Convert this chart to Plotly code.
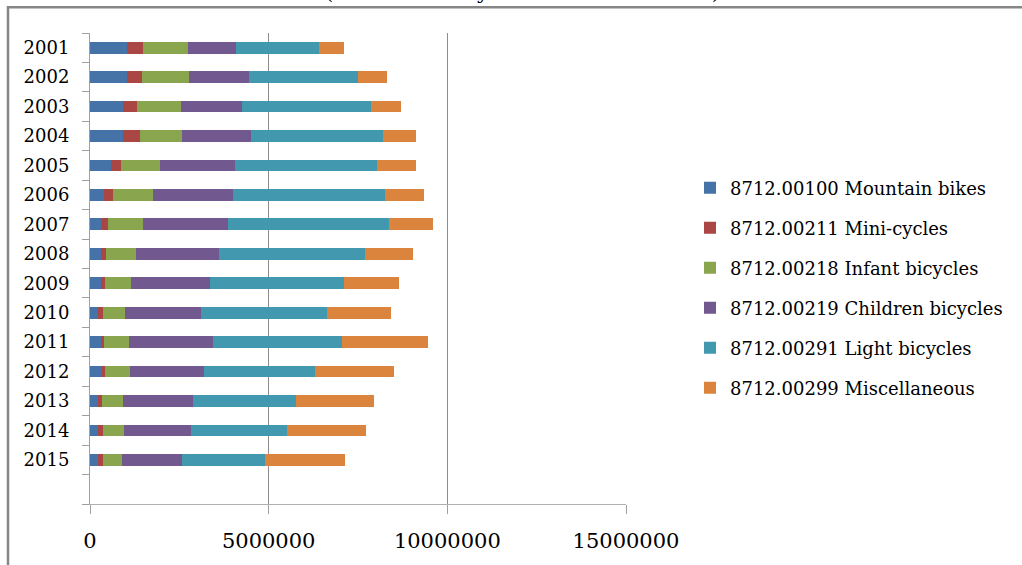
import plotly.graph_objects as go

years = [2001, 2002, 2003, 2004, 2005, 2006, 2007, 2008, 2009, 2010, 2011, 2012, 2013, 2014, 2015]
year_labels = [str(y) for y in years]

series_names = [
    "8712.00100 Mountain bikes",
    "8712.00211 Mini-cycles",
    "8712.00218 Infant bicycles",
    "8712.00219 Children bicycles",
    "8712.00291 Light bicycles",
    "8712.00299 Miscellaneous",
]

mountain_bikes = [1045000, 1045000, 933000, 933000, 578000, 392000, 308000, 308000, 299000, 224000, 308000, 326000, 224000, 224000, 224000]
mini_cycles = [438000, 410000, 392000, 457000, 280000, 252000, 205000, 149000, 130000, 140000, 84000, 103000, 102000, 130000, 130000]
infant_bicycles = [1250000, 1306000, 1222000, 1185000, 1092000, 1119000, 970000, 840000, 718000, 615000, 690000, 681000, 598000, 597000, 532000]
children_bicycles = [1344000, 1689000, 1716000, 1940000, 2099000, 2248000, 2379000, 2313000, 2211000, 2127000, 2369000, 2090000, 1968000, 1875000, 1689000]
light_bicycles = [2341000, 3059000, 3601000, 3685000, 3983000, 4245000, 4496000, 4086000, 3750000, 3526000, 3592000, 3097000, 2873000, 2687000, 2313000]
miscellaneous = [681000, 803000, 830000, 923000, 1091000, 1091000, 1241000, 1343000, 1530000, 1782000, 2407000, 2210000, 2183000, 2220000, 2248000]

x_ticks = [0, 5000000, 10000000, 15000000]
title_text = "(Other motorcycles are not included)"

colors = ["#4572A7", "#AA4643", "#89A54E", "#71588F", "#4198AF", "#DB843D"]
all_series = [mountain_bikes, mini_cycles, infant_bicycles, children_bicycles, light_bicycles, miscellaneous]

FONT = "'DejaVu Serif', 'Liberation Serif', serif"

fig = go.Figure()
for i, (name, vals) in enumerate(zip(series_names, all_series)):
    fig.add_trace(go.Bar(
        x=vals, y=years, name=name, orientation="h",
        marker=dict(color=colors[i], line=dict(width=0)),
        legendgroup=f"g{i}",
    ))

# pixel geometry helpers
W, H = 1022, 565
L, R, T, B = 90, 626, 33, 509
pw, ph = R - L, B - T

def px_x(p):
    return (p - L) / pw

def px_y(p):
    return (B - p) / ph

fig.update_layout(
    width=W, height=H, autosize=False,
    margin=dict(l=L, r=W - R, t=T, b=H - B, pad=0),
    barmode="stack", bargap=0.6,
    plot_bgcolor="white", paper_bgcolor="white",
    font=dict(family=FONT, color="#000000", size=18),
    showlegend=True,
    legend=dict(
        x=px_x(690), xanchor="left", y=px_y(171), yanchor="top",
        font=dict(family=FONT, size=18, color="#000000"),
        traceorder="grouped", tracegroupgap=13.6,
        bgcolor="rgba(0,0,0,0)", itemwidth=30,
    ),
    xaxis=dict(
        range=[0, 15000000], tickvals=x_ticks,
        ticktext=[str(v) for v in x_ticks],
        showgrid=True, gridcolor="#8c8c8c", gridwidth=1,
        zeroline=False,
        showline=True, linecolor="#b0b0b0", linewidth=1,
        ticks="outside", ticklen=9, tickcolor="#a0a0a0",
        tickfont=dict(family=FONT, size=21, color="#000000"),
        ticklabelstandoff=9,
    ),
    yaxis=dict(
        range=[2016.5, 2000.5],
        tickvals=years, ticktext=year_labels,
        ticks="outside", ticklen=7, tickcolor="rgba(0,0,0,0)",
        showgrid=False, zeroline=False,
        showline=True, linecolor="#a0a0a0", linewidth=1,
        tickfont=dict(family=FONT, size=18, color="#000000"),
        ticklabelstandoff=9,
        minor=dict(
            tickvals=[2000.5 + k for k in range(17)],
            ticks="outside", ticklen=7, tickcolor="#a0a0a0", showgrid=False,
        ),
    ),
)

# outer chart frame
fig.add_shape(
    type="rect", xref="paper", yref="paper",
    x0=px_x(8), x1=px_x(1040), y0=px_y(600), y1=px_y(7),
    line=dict(color="#868686", width=2.5), fillcolor="rgba(0,0,0,0)", layer="above",
)

# title, mostly cut off at the top in the reference
fig.add_annotation(
    text=title_text, xref="paper", yref="paper",
    x=px_x(522), y=px_y(6), xanchor="center", yanchor="bottom",
    showarrow=False, font=dict(family=FONT, size=21, color="#000000"),
)

fig.write_html(
    "out.html",
    config={"displayModeBar": False},
    post_script="document.body.style.margin='0';",
)
